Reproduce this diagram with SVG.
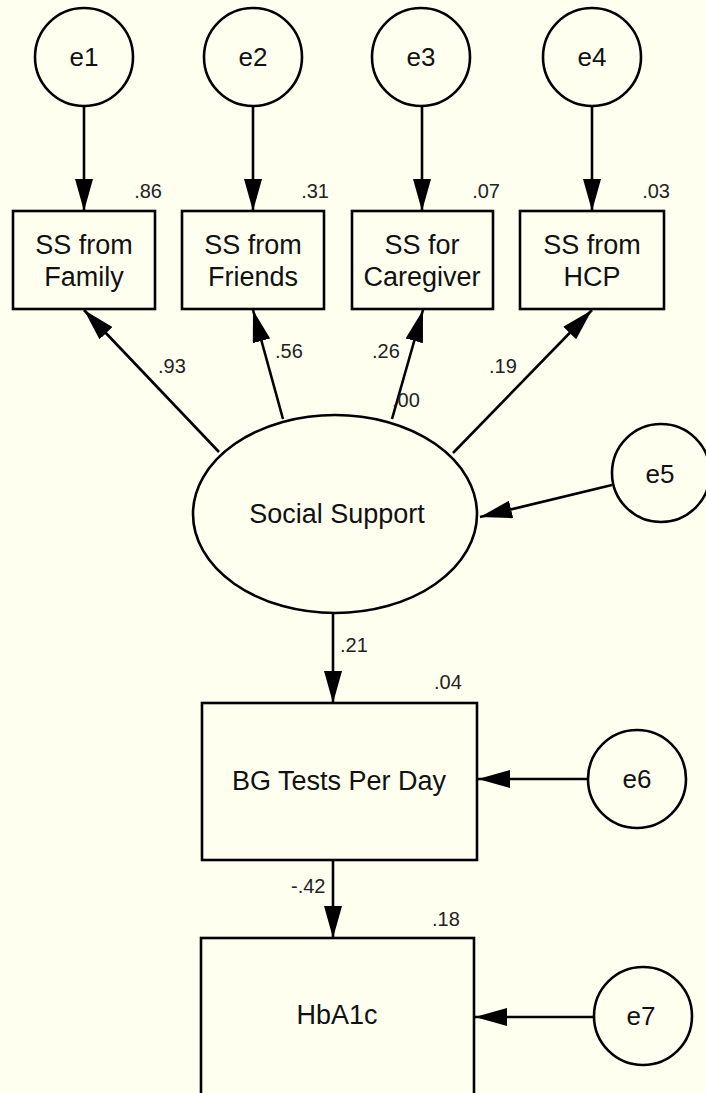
<svg xmlns="http://www.w3.org/2000/svg" width="706" height="1093" viewBox="0 0 706 1093">
<defs>
<style>
.bg{fill:#FFFFF0}
.shape{fill:#FFFFF0;stroke:#000;stroke-width:2.6}
.lbl{font-family:"Liberation Sans",Arial,sans-serif;font-size:27px;fill:#111;text-anchor:middle}
.elbl{font-family:"Liberation Sans",Arial,sans-serif;font-size:26px;fill:#111;text-anchor:middle}
.num{font-family:"Liberation Sans",Arial,sans-serif;font-size:20px;fill:#222}
.end{text-anchor:end}
.conn line{stroke:#000;stroke-width:2.6;marker-end:url(#arr)}
</style>
<marker id="arr" markerUnits="userSpaceOnUse" markerWidth="32" markerHeight="18" refX="32" refY="9" orient="auto" viewBox="0 0 32 18">
<path d="M0,0 L32,9 L0,18 z" fill="#000"/>
</marker>
</defs>
<rect class="bg" x="0" y="0" width="706" height="1093"/>

<g id="connectors" class="conn">
<line x1="84" y1="106" x2="84" y2="211"/>
<line x1="253" y1="106" x2="253" y2="211"/>
<line x1="422" y1="106" x2="422" y2="211"/>
<line x1="592" y1="106" x2="592" y2="211"/>
<line x1="219" y1="452" x2="84" y2="310"/>
<line x1="283" y1="419" x2="253" y2="310"/>
<line x1="392" y1="419" x2="423" y2="310"/>
<line x1="453" y1="453" x2="592" y2="310"/>
<line x1="612" y1="485" x2="480" y2="517"/>
<line x1="333" y1="613" x2="333" y2="703"/>
<line x1="588" y1="779" x2="478" y2="779"/>
<line x1="333" y1="860" x2="333" y2="938"/>
<line x1="594" y1="1017" x2="475" y2="1017"/>
</g>

<g id="e1"><circle class="shape" cx="84" cy="57" r="49"/><text class="elbl" x="84" y="66">e1</text></g>
<g id="e2"><circle class="shape" cx="253" cy="57" r="49"/><text class="elbl" x="253" y="66">e2</text></g>
<g id="e3"><circle class="shape" cx="421" cy="57" r="49"/><text class="elbl" x="421" y="66">e3</text></g>
<g id="e4"><circle class="shape" cx="592" cy="57" r="49"/><text class="elbl" x="592" y="66">e4</text></g>

<g id="ss_family"><rect class="shape" x="13" y="211" width="142" height="98"/><text class="lbl" x="84" y="254">SS from</text><text class="lbl" x="84" y="286">Family</text><text class="num end" x="162" y="198">.86</text></g>
<g id="ss_friends"><rect class="shape" x="182" y="211" width="142" height="98"/><text class="lbl" x="253" y="254">SS from</text><text class="lbl" x="253" y="286">Friends</text><text class="num end" x="329" y="198">.31</text></g>
<g id="ss_caregiver"><rect class="shape" x="352" y="211" width="141" height="98"/><text class="lbl" x="422" y="254">SS for</text><text class="lbl" x="422" y="286">Caregiver</text><text class="num end" x="500" y="198">.07</text></g>
<g id="ss_hcp"><rect class="shape" x="520" y="211" width="144" height="98"/><text class="lbl" x="592" y="254">SS from</text><text class="lbl" x="592" y="286">HCP</text><text class="num end" x="670" y="198">.03</text></g>

<g id="social_support"><ellipse class="shape" cx="335" cy="514" rx="142" ry="99"/><text class="lbl" x="337" y="523">Social Support</text></g>
<g id="e5"><circle class="shape" cx="661" cy="473" r="49"/><text class="elbl" x="660" y="483">e5</text></g>

<g id="bg_tests"><rect class="shape" x="202" y="703" width="275" height="157"/><text class="lbl" x="339" y="790">BG Tests Per Day</text><text class="num" x="434" y="689">.04</text></g>
<g id="e6"><circle class="shape" cx="637" cy="779" r="49"/><text class="elbl" x="637" y="788">e6</text></g>

<g id="hba1c"><rect class="shape" x="201" y="938" width="273" height="170"/><text class="lbl" x="337" y="1024">HbA1c</text><text class="num" x="432" y="926">.18</text></g>
<g id="e7"><circle class="shape" cx="643" cy="1016" r="49"/><text class="elbl" x="641" y="1025">e7</text></g>

<g id="path_labels">
<text class="num" x="158" y="373">.93</text>
<text class="num" x="275" y="358">.56</text>
<text class="num" x="372" y="358">.26</text>
<text class="num" x="392" y="407">.00</text>
<text class="num" x="489" y="373">.19</text>
<text class="num" x="340" y="652">.21</text>
<text class="num" x="291" y="893">-.42</text>
</g>
</svg>
